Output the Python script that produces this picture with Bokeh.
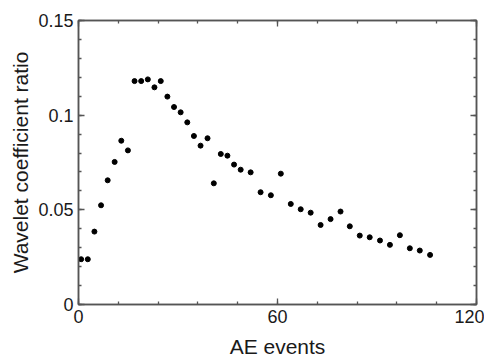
from bokeh.plotting import figure
from bokeh.models import Range1d, FixedTicker, LinearAxis
from bokeh.embed import file_html
from bokeh.resources import INLINE

ae_events = [0.8, 2.8, 4.8, 6.8, 8.8, 10.9, 12.9, 14.9, 16.9, 18.9, 20.9, 22.9,
             24.8, 26.8, 28.8, 30.8, 32.8, 34.8, 36.8, 38.9, 40.8, 42.9, 44.9, 46.9,
             48.9, 51.9, 54.9, 58.0, 61.0, 64.0, 67.0, 70.0, 73.0, 76.0, 79.0, 81.8,
             84.8, 87.8, 90.9, 93.9, 96.9, 99.9, 102.9, 106.0]
ratio = [0.0239, 0.0239, 0.0385, 0.0524, 0.0656, 0.0753, 0.0865, 0.0814, 0.1180, 0.1180,
         0.1189, 0.1147, 0.1180, 0.1098, 0.1043, 0.1015, 0.0962, 0.0890, 0.0839, 0.0878,
         0.0640, 0.0795, 0.0786, 0.0739, 0.0712, 0.0698, 0.0593, 0.0577, 0.0691, 0.0531,
         0.0503, 0.0485, 0.0420, 0.0451, 0.0491, 0.0413, 0.0364, 0.0355, 0.0338, 0.0315,
         0.0366, 0.0297, 0.0285, 0.0262]

x_ticks = [0, 60, 120]
x_minor = [0, 12, 24, 36, 48, 60, 72, 84, 96, 108, 120]
y_ticks = [0, 0.05, 0.1, 0.15]
y_labels = {0: "0", 0.05: "0.05", 0.1: "0.1", 0.15: "0.15"}
y_minor = [i / 100 for i in range(16)]

FONT = "Liberation Sans"
AX = "#555555"
TXT = "#1a1a1a"

p = figure(width=484, height=358, output_backend="svg", toolbar_location=None,
           x_range=Range1d(0, 120), y_range=Range1d(0, 0.15),
           min_border_left=78, min_border_right=8, min_border_top=20, min_border_bottom=54,
           frame_width=398, frame_height=284)
p.background_fill_color = "white"
p.border_fill_color = "white"
p.grid.visible = False
p.outline_line_color = AX
p.outline_line_width = 1.5

p.scatter(ae_events, ratio, size=5, color="black")

bottom = p.xaxis[0]
left = p.yaxis[0]
bottom.ticker = FixedTicker(ticks=x_ticks, minor_ticks=x_minor)
left.ticker = FixedTicker(ticks=y_ticks, minor_ticks=y_minor)
left.major_label_overrides = y_labels
bottom.axis_label = "AE events"
left.axis_label = "Wavelet coefficient ratio"

top = LinearAxis(ticker=FixedTicker(ticks=x_ticks, minor_ticks=x_minor))
right = LinearAxis(ticker=FixedTicker(ticks=y_ticks, minor_ticks=y_minor))
p.add_layout(top, "above")
p.add_layout(right, "right")

for ax in [bottom, left, top, right]:
    ax.axis_line_color = AX
    ax.axis_line_width = 1.5
    ax.major_tick_line_color = AX
    ax.minor_tick_line_color = AX
    ax.major_tick_line_width = 1.3
    ax.minor_tick_line_width = 1.3
    ax.major_tick_in = 6
    ax.major_tick_out = 0
    ax.minor_tick_in = 3
    ax.minor_tick_out = 0
    ax.major_label_text_font = FONT
    ax.major_label_text_color = TXT
    ax.major_label_text_font_size = "18px"
    ax.axis_label_text_font = FONT
    ax.axis_label_text_color = TXT
    ax.axis_label_text_font_size = "21px"
    ax.axis_label_text_font_style = "normal"

for ax in [top, right]:
    ax.major_label_text_font_size = "1px"
    ax.major_label_text_alpha = 0
    ax.major_label_standoff = 0

bottom.major_label_standoff = 5
left.major_label_standoff = 5
bottom.axis_label_standoff = 9
left.axis_label_standoff = 3

open("out.html", "w").write(file_html(p, INLINE))
